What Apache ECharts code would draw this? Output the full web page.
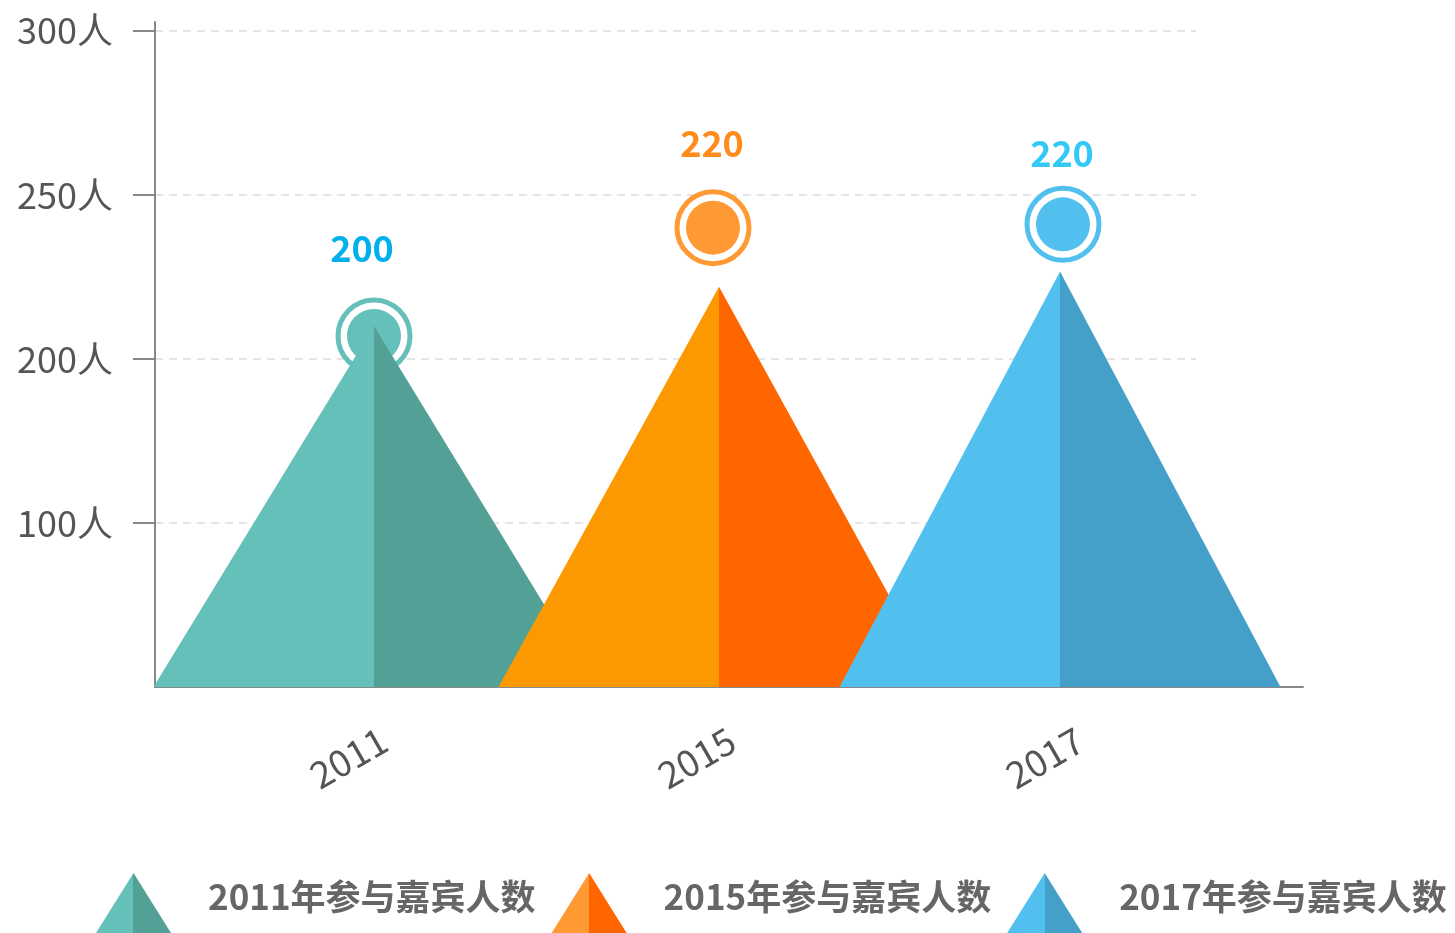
<!DOCTYPE html>
<html>
<head>
<meta charset="utf-8">
<script src="https://cdn.jsdelivr.net/npm/echarts@6/dist/echarts.min.js"></script>
<style>
html, body { margin: 0; padding: 0; background: #fff; }
#main { width: 1455px; height: 933px; }
</style>
</head>
<body>
<div id="main"></div>
<script>
var years = ['2011', '2015', '2017'];
var seriesNames = ['2011年参与嘉宾人数', '2015年参与嘉宾人数', '2017年参与嘉宾人数'];
var peopleCounts = [200, 220, 220];          // numbers printed above the circles
var peakHeights = [165, 183, 190];           // triangle tops (axis units)
var markerHeights = [160.5, 210, 211.5];     // circle centres (axis units)
var labelHeights = [200.5, 248.5, 244];      // number labels (axis units)
var yTickValues = [75, 150, 225, 300];
var yTickLabels = ['100人', '200人', '250人', '300人'];
var yMax = 304;

var lightColors = ['#64c0b9', '#fd9900', '#52c0ee'];
var darkColors = ['#53a096', '#ff6600', '#44a0c8'];
var markerColors = ['#64c0b9', '#ff9933', '#52c0ee'];
var labelColors = ['#00b0ec', '#ff8c1a', '#33c9f6'];
// small horizontal nudges (px) seen in the original
var triangleShift = [-4, 0, 0];
var markerShift = [-4, -6, 3];
var labelShift = [-16, -7, 2];

var font = '"Noto Sans CJK SC", "Noto Sans", sans-serif';

function splitColor(light, dark) {
    return new echarts.graphic.LinearGradient(0, 0, 1, 0, [
        {offset: 0, color: light},
        {offset: 0.5, color: light},
        {offset: 0.5, color: dark},
        {offset: 1, color: dark}
    ]);
}

var chart = echarts.init(document.getElementById('main'));

var series = [];
// outer ring of the markers
series.push({
    type: 'scatter', xAxisIndex: 2, yAxisIndex: 2, silent: true, z: 1,
    symbol: 'circle', symbolSize: 72,
    data: years.map(function (y, i) {
        return {
            value: [y, markerHeights[i]], symbolOffset: [markerShift[i], 0],
            itemStyle: {color: '#fff', opacity: 1, borderColor: markerColors[i], borderWidth: 5}
        };
    })
});
// filled centre of the markers
series.push({
    type: 'scatter', xAxisIndex: 2, yAxisIndex: 2, silent: true, z: 1,
    symbol: 'circle', symbolSize: 54,
    data: years.map(function (y, i) {
        return {
            value: [y, markerHeights[i]], symbolOffset: [markerShift[i], 0],
            itemStyle: {color: markerColors[i], opacity: 1}
        };
    })
});
// the triangles
years.forEach(function (y, i) {
    series.push({
        name: seriesNames[i],
        type: 'pictorialBar',
        xAxisIndex: 2, yAxisIndex: 2,
        z: 2,
        symbol: 'triangle',
        symbolSize: [441, '100%'],
        symbolOffset: [triangleShift[i], 0],
        barGap: '-100%',
        itemStyle: {color: splitColor(lightColors[i], darkColors[i])},
        data: years.map(function (c, j) { return j === i ? peakHeights[i] : '-'; })
    });
});
// numbers above the markers
series.push({
    type: 'scatter', xAxisIndex: 2, yAxisIndex: 2, silent: true, z: 5,
    symbolSize: 1,
    itemStyle: {color: 'rgba(0,0,0,0)', opacity: 1},
    label: {
        show: true, position: 'inside', opacity: 1,
        fontSize: 36, fontWeight: 'bold', fontFamily: font,
        formatter: function (p) { return peopleCounts[p.dataIndex]; }
    },
    data: years.map(function (y, i) {
        return {value: [y, labelHeights[i]], label: {color: labelColors[i], offset: [labelShift[i], 0]}};
    })
});

var legendBase = {
    left: 96, width: 1400, padding: 0,
    itemWidth: 75, itemHeight: 60, itemGap: 16,
    selectedMode: false
};

var option = {
    animation: false,
    grid: [
        {left: 155, right: 259, top: 22, bottom: 246, outerBoundsMode: 'none'},
        {left: 155, right: 152, top: 22, bottom: 246, outerBoundsMode: 'none'},
        {left: 207.5, right: 224.5, top: 22, bottom: 246, outerBoundsMode: 'none'},
        {left: 210, right: 201, top: 22, bottom: 246, outerBoundsMode: 'none'}
    ],
    legend: [
        // icons
        Object.assign({}, legendBase, {
            bottom: 0, icon: 'triangle',
            data: seriesNames.map(function (n, i) {
                return {name: n, itemStyle: {color: splitColor(markerColors[i], darkColors[i])}};
            }),
            textStyle: {fontSize: 35, fontWeight: 'bold', color: 'rgba(0,0,0,0)', fontFamily: font, padding: [0, 0, 0, 32]}
        }),
        // texts, a touch higher than the icon centres
        Object.assign({}, legendBase, {
            bottom: 6, icon: 'rect',
            data: seriesNames.map(function (n) {
                return {name: n, itemStyle: {color: 'rgba(0,0,0,0)', opacity: 0}};
            }),
            textStyle: {fontSize: 35, fontWeight: 'bold', color: '#666', fontFamily: font, padding: [0, 0, 0, 32]}
        })
    ],
    xAxis: [
        {gridIndex: 0, type: 'value', show: false, min: 0, max: 1},
        {
            gridIndex: 1, type: 'value', min: 0, max: 1,
            axisLine: {lineStyle: {color: '#888', width: 2}},
            axisTick: {show: false}, axisLabel: {show: false}, splitLine: {show: false}
        },
        {
            gridIndex: 2, type: 'category', data: years,
            axisLine: {show: false},
            axisTick: {alignWithLabel: true, length: 20, lineStyle: {color: '#888', width: 2}},
            axisLabel: {show: false}
        },
        {
            gridIndex: 3, type: 'category', data: years,
            axisLine: {show: false}, axisTick: {show: false},
            axisLabel: {rotate: 30, margin: 50, fontSize: 37, color: '#555', fontFamily: font}
        }
    ],
    yAxis: [
        {
            gridIndex: 0, type: 'value', min: 0, max: yMax, interval: 75,
            axisLine: {show: true, lineStyle: {color: '#888', width: 2}},
            axisTick: {show: true, length: 22, customValues: yTickValues, lineStyle: {color: '#888', width: 2}},
            axisLabel: {
                margin: 42, fontSize: 36, color: '#555', fontFamily: font,
                customValues: yTickValues,
                formatter: function (v) {
                    var k = yTickValues.indexOf(v);
                    return k < 0 ? '' : yTickLabels[k];
                }
            },
            splitLine: {show: true, lineStyle: {color: '#e5e5e5', type: [8, 6], width: 2}}
        },
        {gridIndex: 1, type: 'value', show: false, min: 0, max: yMax},
        {gridIndex: 2, type: 'value', show: false, min: 0, max: yMax},
        {gridIndex: 3, type: 'value', show: false, min: 0, max: yMax}
    ],
    series: series
};

chart.setOption(option);
</script>
</body>
</html>
